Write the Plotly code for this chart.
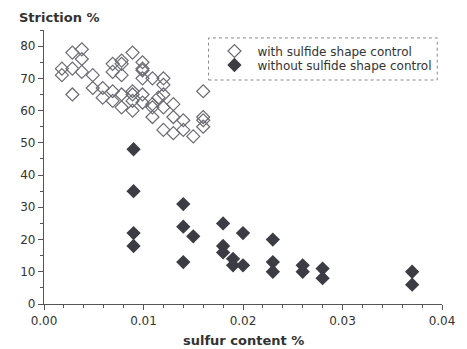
import plotly.graph_objects as go

with_x = [0.0018, 0.0018, 0.00285, 0.00285, 0.00285, 0.0038, 0.0038, 0.0038, 0.0049, 0.0049,
          0.0059, 0.0059, 0.0069, 0.0069, 0.0069, 0.0069, 0.0078, 0.0078, 0.0078, 0.0078, 0.0078,
          0.0089, 0.0089, 0.0089, 0.0089, 0.0089, 0.0099, 0.0099, 0.0099, 0.0099, 0.0099,
          0.0109, 0.0109, 0.0109, 0.012, 0.012, 0.012, 0.012, 0.012, 0.013, 0.013, 0.013,
          0.014, 0.014, 0.015, 0.016, 0.016, 0.016, 0.016, 0.0109, 0.0115, 0.0099]
with_y = [73, 71, 78, 73, 65, 79, 76, 72, 71, 67,
          67, 64, 74.5, 72, 66, 63, 75.5, 74.5, 71, 65, 61,
          78, 66, 65, 63, 60, 75, 72.5, 70, 65, 62.5,
          70, 62, 58, 70, 68, 65, 61, 54, 62, 58, 53,
          57, 54, 52, 66, 58, 57, 55, 61, 64, 73]

without_x = [0.009, 0.009, 0.009, 0.009, 0.014, 0.014, 0.014, 0.015, 0.018, 0.018, 0.018,
             0.019, 0.019, 0.02, 0.02, 0.023, 0.023, 0.023, 0.026, 0.026, 0.028, 0.028,
             0.037, 0.037]
without_y = [48, 35, 22, 18, 31, 24, 13, 21, 25, 18, 16,
             14, 12, 22, 12, 20, 13, 10, 12, 10, 11, 8,
             10, 6]

x_ticks = [0.0, 0.01, 0.02, 0.03, 0.04]
x_tick_labels = ["0.00", "0.01", "0.02", "0.03", "0.04"]
y_ticks = [0, 10, 20, 30, 40, 50, 60, 70, 80]

FONT = "DejaVu Sans"

fig = go.Figure()
fig.add_trace(go.Scatter(
    x=with_x, y=with_y, mode="markers", name="with sulfide shape control",
    marker=dict(symbol="diamond-open", size=10, color="#6a6a72", line=dict(width=1.2, color="#6a6a72")),
    legend="legend",
))
fig.add_trace(go.Scatter(
    x=without_x, y=without_y, mode="markers", name="without sulfide shape control",
    marker=dict(symbol="diamond", size=11, color="#3c3c44", line=dict(width=0)),
    legend="legend2",
))

axis_common = dict(
    showgrid=False, zeroline=False, showline=True, linecolor="#555", linewidth=1.2,
    ticks="outside", tickcolor="#555", ticklen=5, tickwidth=1,
    tickfont=dict(family=FONT, size=12, color="#333"),
)
fig.update_xaxes(
    range=[0, 0.04], tickvals=x_ticks, ticktext=x_tick_labels,
    minor=dict(dtick=0.002, ticks="outside", ticklen=3, tickcolor="#555"),
    **axis_common,
)
fig.update_yaxes(
    range=[0, 85], tickvals=y_ticks,
    minor=dict(dtick=5, ticks="outside", ticklen=3, tickcolor="#555"),
    **axis_common,
)

leg_common = dict(
    xanchor="left", yanchor="middle", borderwidth=0, bgcolor="rgba(0,0,0,0)",
    font=dict(family=FONT, size=12, color="#333"), itemwidth=36,
)

fig.update_layout(
    width=459, height=341,
    margin=dict(l=28, r=15, t=22, b=45),
    plot_bgcolor="white", paper_bgcolor="white",
    showlegend=True,
    legend=dict(x=0.4207, y=0.9234, **leg_common),
    legend2=dict(x=0.4207, y=0.8723, **leg_common),
    shapes=[
        dict(type="rect", xref="paper", yref="paper", x0=0.4135, x1=0.988, y0=0.8175, y1=0.971,
             line=dict(color="#888", width=1, dash="dot"), fillcolor="rgba(0,0,0,0)", layer="below"),
    ],
    annotations=[
        dict(text="<b>Striction %</b>", xref="paper", yref="paper", x=-0.0673, y=1.0,
             yshift=13, xanchor="left", yanchor="middle", showarrow=False,
             font=dict(family=FONT, size=13, color="#333")),
        dict(text="<b>sulfur content %</b>", xref="paper", yref="paper", x=0.5, y=0,
             yshift=-36, xanchor="center", yanchor="middle", showarrow=False,
             font=dict(family=FONT, size=13, color="#333")),
    ],
)

fig.write_html("out.html")
